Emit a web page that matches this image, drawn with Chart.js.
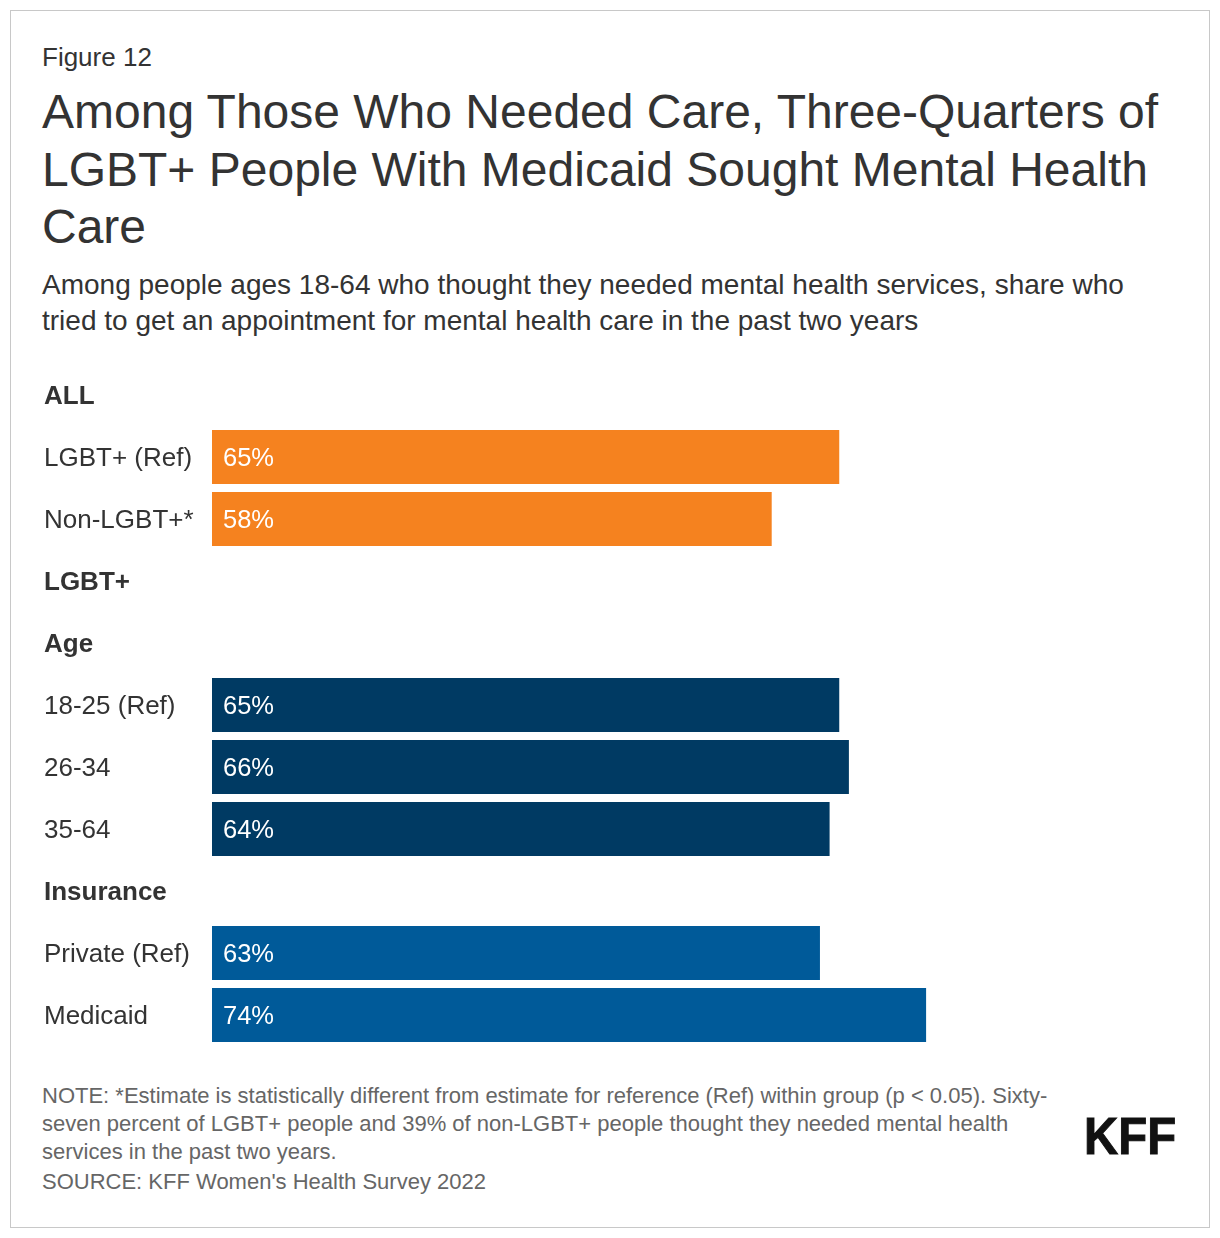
<!DOCTYPE html>
<html>
<head>
<meta charset="utf-8">
<script src="https://cdn.jsdelivr.net/npm/chart.js@4.4.1/dist/chart.umd.min.js"></script>
<style>
  body { margin: 0; background: #fff; font-family: "Liberation Sans", Arial, sans-serif; color: #333; }
  #frame { position: absolute; left: 10px; top: 10px; width: 1198px; height: 1216px; border: 1px solid #c8c8c8; }
  .txt { position: absolute; left: 42px; white-space: nowrap; }
  #fig { top: 41px; font-size: 26px; line-height: 32px; }
  #title { top: 83px; font-size: 48px; line-height: 57.5px; }
  #sub { top: 267px; font-size: 28px; line-height: 36px; }
  #note { top: 1082px; font-size: 22px; line-height: 28px; color: #666; }
  #note .src { display: block; margin-top: 2px; }
  #logo { position: absolute; right: 44px; top: 1108px; font-family: "Liberation Sans", Arial, sans-serif; font-weight: bold; font-size: 52px; line-height: 56px; color: #111; transform: scaleX(0.91); transform-origin: right center; -webkit-text-stroke: 1px #111; }
  #wrap { position: absolute; left: 44px; top: 364px; width: 1133px; height: 682px; }
</style>
</head>
<body>
<div id="frame"></div>
<div class="txt" id="fig">Figure 12</div>
<div class="txt" id="title">Among Those Who Needed Care, Three-Quarters of<br>LGBT+ People With Medicaid Sought Mental Health<br>Care</div>
<div class="txt" id="sub">Among people ages 18-64 who thought they needed mental health services, share who<br>tried to get an appointment for mental health care in the past two years</div>
<div id="wrap"><canvas id="myChart"></canvas></div>
<div class="txt" id="note">NOTE: *Estimate is statistically different from estimate for reference (Ref) within group (p &lt; 0.05). Sixty-<br>seven percent of LGBT+ people and 39% of non-LGBT+ people thought they needed mental health<br>services in the past two years.<span class="src">SOURCE: KFF Women's Health Survey 2022</span></div>
<div id="logo">KFF</div>

<script>
// rows of the chart, headers have no value
var categories = ['ALL', 'LGBT+ (Ref)', 'Non-LGBT+*', 'LGBT+', 'Age', '18-25 (Ref)', '26-34', '35-64', 'Insurance', 'Private (Ref)', 'Medicaid'];
var headers = ['ALL', 'LGBT+', 'Age', 'Insurance'];
var values = [null, 65, 58, null, null, 65, 66, 64, null, 63, 74];
var groups = ['all', 'all', 'all', '', '', 'age', 'age', 'age', '', 'ins', 'ins'];

var groupColors = { all: '#F5821F', age: '#003A63', ins: '#005A99', '': '#fff' };

// white % labels inside the bars
const barLabels = {
  id: 'barLabels',
  afterDatasetsDraw(chart) {
    var ctx = chart.ctx;
    var meta = chart.getDatasetMeta(0);
    ctx.save();
    ctx.fillStyle = '#fff';
    ctx.font = '25.5px "Liberation Sans", Arial, sans-serif';
    ctx.textAlign = 'left';
    ctx.textBaseline = 'middle';
    meta.data.forEach(function (bar, i) {
      if (values[i] == null) return;
      ctx.fillText(values[i] + '%', bar.base + 11, bar.y + 2);
    });
    ctx.restore();
  }
};

var ctx = document.getElementById('myChart').getContext('2d');
var chart = new Chart(ctx, {
  type: 'bar',
  data: {
    labels: categories,
    datasets: [{
      data: values,
      backgroundColor: groups.map(function (g) { return groupColors[g]; }),
      barPercentage: 1,
      categoryPercentage: 54 / 62
    }]
  },
  options: {
    indexAxis: 'y',
    responsive: true,
    maintainAspectRatio: false,
    animation: false,
    layout: { padding: 0 },
    plugins: { legend: { display: false }, tooltip: { enabled: false } },
    scales: {
      x: { display: false, min: 0, max: 100 },
      y: {
        grid: { display: false, drawTicks: false },
        border: { display: false },
        afterFit: function (scale) {
          scale.width = 168;
          scale.paddingTop = 0;
          scale.paddingBottom = 0;
        },
        ticks: {
          crossAlign: 'far',
          padding: 0,
          labelOffset: 2,
          color: '#333',
          font: function (c) {
            var lbl = categories[c.index];
            return { family: '"Liberation Sans", Arial, sans-serif', size: 26, weight: headers.includes(lbl) ? 'bold' : 'normal' };
          }
        }
      }
    }
  },
  plugins: [barLabels]
});
</script>
</body>
</html>
